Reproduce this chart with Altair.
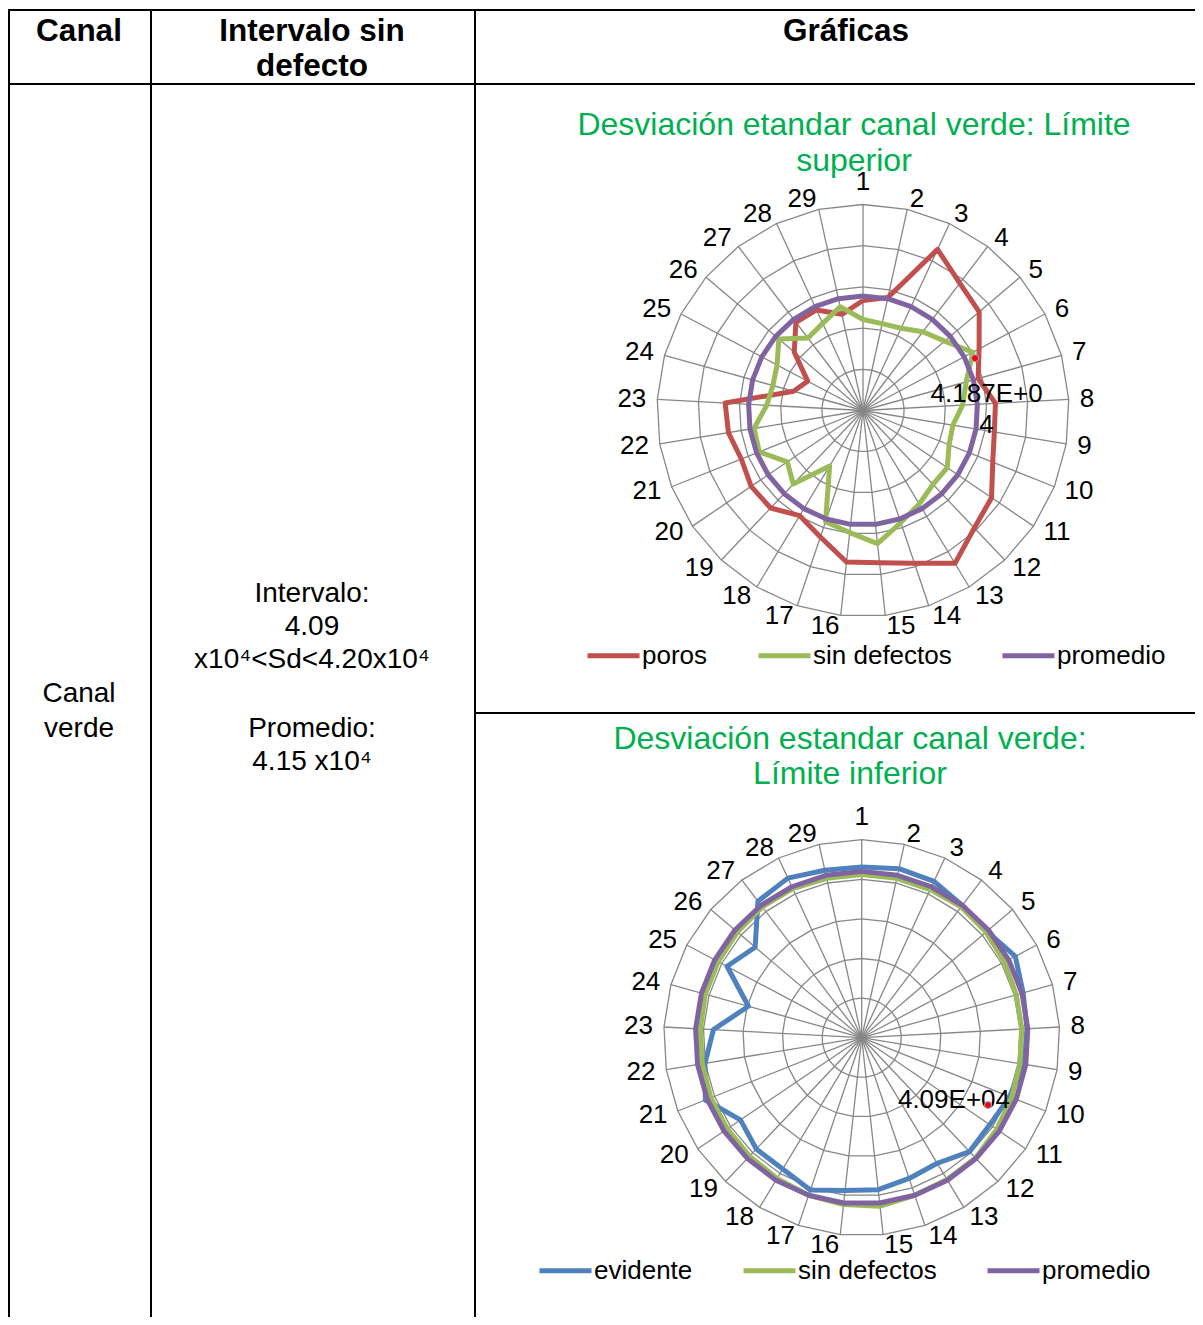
import altair as alt
import pandas as pd

FONT = "Liberation Sans"
GRID = "#878787"

# ---------------- data ----------------
spoke_labels = [str(i) for i in range(1, 30)]
ring_levels = [1, 2, 3, 4, 5]

top_series = ["poros", "sin defectos", "promedio"]
top_colors = ["#C0504D", "#9BBB59", "#8064A2"]
top_poros = [2.67, 2.81, 4.31, 3.88, 3.70, 3.19, 2.90, 3.22, 3.23, 3.39,
             3.77, 3.93, 4.33, 3.91, 3.72, 3.70, 3.24, 2.98, 3.26, 3.28,
             3.18, 3.31, 3.35, 1.75, 1.52, 2.19, 2.69, 2.69, 2.39]
top_sin_defectos = [2.21, 2.16, 2.20, 2.40, 2.60, 3.02, 2.60, 2.42, 2.21, 2.25,
                    2.47, 2.47, 2.65, 2.87, 3.25, 2.98, 2.85, 1.57, 2.46, 2.22,
                    2.71, 2.68, 2.34, 2.27, 2.36, 2.68, 2.21, 2.33, 2.58]
top_promedio = [2.78, 2.78, 2.78, 2.78, 2.78, 2.78, 2.78, 2.78, 2.78, 2.78,
                2.78, 2.78, 2.78, 2.78, 2.78, 2.78, 2.78, 2.78, 2.78, 2.78,
                2.78, 2.78, 2.78, 2.78, 2.78, 2.78, 2.78, 2.78, 2.78]

bottom_series = ["evidente", "sin defectos", "promedio"]
bottom_colors = ["#4F81BD", "#9BBB59", "#8064A2"]
bottom_evidente = [4.31, 4.37, 4.35, 4.20, 4.15, 4.39, 4.23, 4.18, 4.15, 4.02,
                   3.91, 3.96, 3.70, 3.75, 3.86, 3.88, 4.06, 3.87, 3.87, 3.70,
                   4.25, 4.01, 3.75, 2.97, 3.85, 3.53, 4.33, 4.44, 4.33]
bottom_sin_defectos = [4.12, 4.12, 4.12, 4.15, 4.12, 4.08, 4.05, 4.05, 4.05, 4.08,
                       4.12, 4.18, 4.18, 4.20, 4.28, 4.24, 4.20, 4.15, 4.12, 4.10,
                       4.10, 4.08, 4.08, 4.10, 4.10, 4.12, 4.15, 4.15, 4.12]
bottom_promedio = [4.20, 4.20, 4.20, 4.20, 4.20, 4.20, 4.20, 4.20, 4.20, 4.20,
                   4.20, 4.20, 4.20, 4.20, 4.20, 4.20, 4.20, 4.20, 4.20, 4.20,
                   4.20, 4.20, 4.20, 4.20, 4.20, 4.20, 4.20, 4.20, 4.20]

header_canal = ["Canal"]
header_intervalo = ["Intervalo sin", "defecto"]
header_graficas = ["Gráficas"]
cell_canal = ["Canal", "verde"]
cell_intervalo = ["Intervalo:", "4.09", "x10⁴<Sd<4.20x10⁴"]
cell_promedio = ["Promedio:", "4.15 x10⁴"]
top_title = ["Desviación etandar canal verde: Límite", "superior"]
bottom_title = ["Desviación estandar canal verde:", "Límite inferior"]

top_note = ["4.187E+0", "4"]
top_note_pos = [3.00, 0.40]
top_dot_pos = [2.72, 1.27]
bottom_note = ["4.09E+04"]
bottom_note_pos = [2.33, -1.57]
bottom_dot_pos = [3.19, -1.70]

one_row = pd.DataFrame({"k": [0]})


def text_block(lines, x, y, size, bold=False, color="black", line_height=None):
    # y is the middle of the first line
    return alt.Chart(one_row).mark_text(
        font=FONT, fontSize=size, fontWeight="bold" if bold else "normal",
        color=color, align="center", baseline="middle",
        lineHeight=line_height if line_height else size * 1.2,
    ).encode(x=alt.value(x), y=alt.value(y), text=alt.value(lines))


def hrule(x1, x2, y):
    return alt.Chart(one_row).mark_rule(color="black", strokeWidth=2).encode(
        x=alt.value(x1), x2=alt.value(x2), y=alt.value(y))


def vrule(x, y1, y2):
    return alt.Chart(one_row).mark_rule(color="black", strokeWidth=2).encode(
        x=alt.value(x), y=alt.value(y1), y2=alt.value(y2))


def radar(names, colors, values, cx, cy, R, leg_x, leg_y, note, note_pos, dot_pos):
    n = len(spoke_labels)
    outer = max(ring_levels)
    ppu = R / outer
    xs = alt.Scale(domain=[-outer, outer], range=[cx - R, cx + R], nice=False, zero=False)
    ys = alt.Scale(domain=[-outer, outer], range=[cy + R, cy - R], nice=False, zero=False)
    ang = f"datum.k*2*PI/{n}"

    ring_df = pd.DataFrame([{"ring": lv, "idx": j, "k": j % n, "value": lv}
                            for lv in ring_levels for j in range(n + 1)])
    rings = alt.Chart(ring_df).transform_calculate(
        ang=ang, px="datum.value*sin(datum.ang)", py="datum.value*cos(datum.ang)"
    ).mark_line(color=GRID, strokeWidth=1.3).encode(
        x=alt.X("px:Q", scale=xs, axis=None),
        y=alt.Y("py:Q", scale=ys, axis=None),
        detail="ring:N", order="idx:Q")

    spoke_df = pd.DataFrame({"k": list(range(n)), "label": spoke_labels, "outer": [outer] * n})
    spokes = alt.Chart(spoke_df).transform_calculate(
        ang=ang, x0="0", y0="0",
        x1="datum.outer*sin(datum.ang)", y1="datum.outer*cos(datum.ang)"
    ).mark_rule(color=GRID, strokeWidth=1.3).encode(
        x=alt.X("x0:Q", scale=xs, axis=None),
        y=alt.Y("y0:Q", scale=ys, axis=None),
        x2="x1:Q", y2="y1:Q")

    # category labels: anchored just outside the outer ring, left-aligned on the
    # right half, right-aligned on the left half, bottom-aligned at the very top
    labels = alt.Chart(spoke_df).transform_calculate(
        ang=ang,
        s="sin(datum.ang)", c="cos(datum.ang)",
        sg="abs(datum.s) < 0.01 ? 0 : datum.s/abs(datum.s)",
        lx=f"((datum.outer*{ppu} + 11)*datum.s + datum.sg*length(datum.label)*7.23)/{ppu}",
        ly=f"((datum.outer*{ppu} + 11)*datum.c + (abs(datum.s) < 0.01 ? 12 : 0))/{ppu}",
    ).mark_text(font=FONT, fontSize=26, color="black", align="center", baseline="middle").encode(
        x=alt.X("lx:Q", scale=xs, axis=None),
        y=alt.Y("ly:Q", scale=ys, axis=None),
        text="label:N")

    rows = []
    for name, vals in zip(names, values):
        for j in range(n + 1):
            rows.append({"series": name, "idx": j, "k": j % n, "value": vals[j % n]})
    sdf = pd.DataFrame(rows)
    legend = alt.Legend(
        orient="none", legendX=leg_x, legendY=leg_y, direction="horizontal",
        title=None, symbolType="stroke", symbolStrokeWidth=5, symbolSize=2704,
        labelFont=FONT, labelFontSize=26, labelColor="black", labelOffset=0,
        columnPadding=40, padding=0, labelLimit=400)
    lines = []
    for name in names:
        lines.append(
            alt.Chart(sdf).transform_filter(alt.datum.series == name).transform_calculate(
                ang=ang, px="datum.value*sin(datum.ang)", py="datum.value*cos(datum.ang)"
            ).mark_line(strokeWidth=5, strokeJoin="round").encode(
                x=alt.X("px:Q", scale=xs, axis=None),
                y=alt.Y("py:Q", scale=ys, axis=None),
                color=alt.Color("series:N", scale=alt.Scale(domain=names, range=colors), legend=legend),
                order="idx:Q"))

    note_df = pd.DataFrame({"nx": [note_pos[0]], "ny": [note_pos[1]]})
    note_text = alt.Chart(note_df).mark_text(
        font=FONT, fontSize=26, color="black", align="center", baseline="middle", lineHeight=31
    ).encode(x=alt.X("nx:Q", scale=xs, axis=None), y=alt.Y("ny:Q", scale=ys, axis=None),
             text=alt.value(note))
    dot_df = pd.DataFrame({"dx": [dot_pos[0]], "dy": [dot_pos[1]]})
    dot = alt.Chart(dot_df).mark_circle(
        fill="#FF0000", stroke="#8EB4E3", strokeWidth=1, size=50, opacity=1
    ).encode(x=alt.X("dx:Q", scale=xs, axis=None), y=alt.Y("dy:Q", scale=ys, axis=None))

    return alt.layer(rings, spokes, labels, *lines, note_text, dot)


W, H = 1187, 1309

table = alt.layer(
    hrule(0, W, 2), hrule(0, W, 76), hrule(467, W, 705),
    vrule(1, 1, H), vrule(143, 1, H), vrule(467, 1, H),
    text_block(header_canal, 71, 24, 31.5, bold=True),
    text_block(header_intervalo, 304, 24, 31.5, bold=True, line_height=35),
    text_block(header_graficas, 838, 24, 31.5, bold=True),
    text_block(cell_canal, 71, 686, 28, line_height=35),
    text_block(cell_intervalo, 304, 586, 28, line_height=33),
    text_block(cell_promedio, 304, 721, 28, line_height=33),
    text_block(top_title, 846, 117, 32, color="#00B050", line_height=36),
    text_block(bottom_title, 842, 731, 32, color="#00B050", line_height=35),
)

top = radar(top_series, top_colors, [top_poros, top_sin_defectos, top_promedio],
            855, 402.5, 206, 577, 619, top_note, top_note_pos, top_dot_pos)
bottom = radar(bottom_series, bottom_colors, [bottom_evidente, bottom_sin_defectos, bottom_promedio],
               853.7, 1029.7, 198, 529, 1234, bottom_note, bottom_note_pos, bottom_dot_pos)

chart = alt.layer(table, top, bottom).resolve_scale(
    x="independent", y="independent", color="independent"
).resolve_legend(color="independent").properties(
    width=W, height=H, padding=0, autosize=alt.AutoSizeParams(type="none")
).configure_view(stroke=None)

chart.save("out.html", embed_options={"renderer": "svg", "actions": False})
